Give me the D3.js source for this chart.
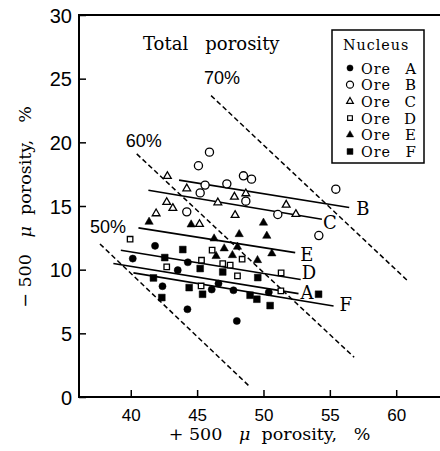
<!DOCTYPE html>
<html>
<head>
<meta charset="utf-8">
<script src="https://cdn.jsdelivr.net/npm/d3@7"></script>
<style>
  body { margin: 0; background: #fff; }
  svg { display: block; }
  .serif { font-family: 'DejaVu Serif', serif; }
  .num { font-family: 'Liberation Sans', Arial, sans-serif; }
</style>
</head>
<body>
<script>
// Data (x = +500 micron porosity %, y = -500 micron porosity %)
const oreA = [[40.15,10.87],[41.83,11.87],[42.39,8.7],[43.54,9.96],[44.3,10.58],[44.27,6.89],
              [46.1,8.44],[46.61,8.91],[47.74,8.38],[47.99,5.97],[50.4,8.23]];
const oreB = [[45.1,18.16],[45.93,19.23],[45.6,16.64],[45.23,16.03],[44.22,14.54],[47.24,16.74],
              [48.49,17.37],[49.1,17.11],[48.67,15.38],[51.08,14.33],[55.45,16.32],[54.17,12.68]];
const oreC = [[42.76,17.34],[44.22,16.37],[42.71,15.3],[43.17,14.83],[41.91,14.41],[45.18,13.57],
              [46.56,15.27],[47.81,15.72],[48.67,15.98],[47.86,14.28],[51.71,15.09],[52.44,14.36]];
const oreD = [[39.95,12.39],[42.71,10.22],[45.33,10.74],[46.13,11.53],[46.93,10.48],[47.49,10.35],
              [48.39,10.82],[48.04,9.51],[51.33,9.75],[45.3,8.72],[51.31,8.33]];
const oreE = [[41.38,13.75],[44.55,13.54],[46.28,12.44],[47.04,11.66],[48.17,12.78],[48.04,11.79],
              [47.66,11.13],[46.43,11.06],[50,13.68],[50.25,12.65],[50.63,11.27],[49.55,10.74]];
const oreF = [[43.92,11.58],[42.56,10.95],[41.71,9.35],[42.34,7.81],[45.23,10.09],[44.4,8.59],
              [45.41,8.07],[46.93,9.82],[48.99,7.99],[49.5,7.68],[49.57,9.38],[50.5,7.18],[54.15,8.07]];

const oreNames = ['A', 'B', 'C', 'D', 'E', 'F'];

// fitted lines per ore: [x1, y1, x2, y2]
const fitLines = {
  B: [43.64, 17.03, 56.46, 14.88],
  C: [41.33, 16.24, 54.4, 13.96],
  E: [40.58, 13.28, 52.39, 11.34],
  D: [39.25, 11.53, 52.8, 9.23],
  A: [38.69, 10.48, 52.64, 8.12],
  F: [40.2, 9.75, 55.28, 7.15]
};

// total porosity iso-lines
const isoLabels = ['50%', '60%', '70%'];
const isoLines = [
  [[37.68, 12.02], [48.99, 0.79]],
  [[40.45, 19.09], [56.83, 3.12]],
  [[46.05, 23.67], [60.8, 9.19]]
];

const xTicks = [40, 45, 50, 55, 60];
const yTicks = [0, 5, 10, 15, 20, 25, 30];

// layout
const width = 440, height = 451;
const plotLeft = 79, plotRight = 440, plotTop = 15, plotBottom = 397;

const svg = d3.select('body').append('svg')
    .attr('width', width)
    .attr('height', height);

const x = d3.scaleLinear().domain([36.1, 63.3]).range([plotLeft, plotRight]);
const y = d3.scaleLinear().domain([0, 30]).range([plotBottom, plotTop]);

// marker styles per ore
const markers = {
  A: {type: d3.symbolCircle, size: 40, fill: true},
  B: {type: d3.symbolCircle, size: 52, fill: false},
  C: {type: d3.symbolTriangle, size: 26, fill: false},
  D: {type: d3.symbolSquare, size: 30, fill: false},
  E: {type: d3.symbolTriangle, size: 30, fill: true},
  F: {type: d3.symbolSquare, size: 46, fill: true}
};
const oreData = {A: oreA, B: oreB, C: oreC, D: oreD, E: oreE, F: oreF};

// axes
const xAxis = d3.axisBottom(x)
    .tickValues(xTicks)
    .tickSizeInner(-7)
    .tickSizeOuter(0)
    .tickPadding(12);
const yAxis = d3.axisLeft(y)
    .tickValues(yTicks)
    .tickSizeInner(-7)
    .tickSizeOuter(0)
    .tickPadding(7);

const gx = svg.append('g')
    .attr('transform', 'translate(0,' + plotBottom + ')')
    .call(xAxis);
const gy = svg.append('g')
    .attr('transform', 'translate(' + plotLeft + ',0)')
    .call(yAxis);

[gx, gy].forEach(function(g) {
  g.select('.domain').remove();
  g.selectAll('line').attr('stroke', '#000').attr('stroke-width', 1.5);
  g.selectAll('text')
      .attr('class', 'num')
      .attr('fill', '#000');
});
gx.selectAll('text').style('font-size', '17px');
gy.selectAll('text').style('font-size', '20px').attr('dy', '0.36em');

// frame: left, bottom, top
svg.append('path')
    .attr('d', `M ${plotRight} ${plotTop} L ${plotLeft} ${plotTop} L ${plotLeft} ${plotBottom} L ${plotRight} ${plotBottom}`)
    .attr('fill', 'none')
    .attr('stroke', '#000')
    .attr('stroke-width', 2);

// iso lines
const isoOffsets = [[-10, -11], [-11, -7], [-7, -12]];
isoLines.forEach(function(seg, i) {
  svg.append('line')
      .attr('x1', x(seg[0][0])).attr('y1', y(seg[0][1]))
      .attr('x2', x(seg[1][0])).attr('y2', y(seg[1][1]))
      .attr('stroke', '#000')
      .attr('stroke-width', 1.5)
      .attr('stroke-dasharray', '5,3');
  svg.append('text')
      .attr('class', 'num')
      .attr('x', x(seg[0][0]) + isoOffsets[i][0])
      .attr('y', y(seg[0][1]) + isoOffsets[i][1])
      .style('font-size', '18px')
      .text(isoLabels[i]);
});

// fit lines and letters
const labelOffsets = {B: [7, 7], C: [1, 10], E: [5, 8], D: [1, 0], A: [2, 5], F: [6, 5]};
Object.keys(fitLines).forEach(function(k) {
  const l = fitLines[k];
  svg.append('line')
      .attr('x1', x(l[0])).attr('y1', y(l[1]))
      .attr('x2', x(l[2])).attr('y2', y(l[3]))
      .attr('stroke', '#000')
      .attr('stroke-width', 1.6);
  svg.append('text')
      .attr('class', 'serif')
      .attr('x', x(l[2]) + labelOffsets[k][0])
      .attr('y', y(l[3]) + labelOffsets[k][1])
      .style('font-size', '18px')
      .text(k);
});

// points
oreNames.forEach(function(k) {
  const m = markers[k];
  svg.append('g').selectAll('path')
      .data(oreData[k])
      .join('path')
      .attr('transform', d => 'translate(' + x(d[0]) + ',' + y(d[1]) + ')')
      .attr('d', d3.symbol().type(m.type).size(m.size))
      .attr('fill', m.fill ? '#000' : '#fff')
      .attr('stroke', '#000')
      .attr('stroke-width', m.fill ? 0.5 : 1.3);
});

// titles
svg.append('text')
    .attr('class', 'serif')
    .attr('x', 143).attr('y', 50)
    .style('font-size', '18px')
    .style('white-space', 'pre')
    .text('Total   porosity');

function axisTitle(sel, sign) {
  sel.append('tspan').text(sign + ' 500   ');
  sel.append('tspan').style('font-style', 'italic').text('\u03bc');
  sel.append('tspan').text('  porosity,   %');
}

svg.append('text')
    .attr('class', 'serif')
    .attr('x', (plotLeft + plotRight) / 2 + 10).attr('y', 440)
    .attr('text-anchor', 'middle')
    .style('font-size', '17.5px')
    .style('white-space', 'pre')
    .call(axisTitle, '+');

svg.append('text')
    .attr('class', 'serif')
    .attr('transform', 'translate(31,207) rotate(-90)')
    .attr('text-anchor', 'middle')
    .style('font-size', '17.5px')
    .style('white-space', 'pre')
    .call(axisTitle, '\u2212');

// legend
const legend = svg.append('g');
legend.append('rect')
    .attr('x', 332).attr('y', 30)
    .attr('width', 92).attr('height', 133)
    .attr('fill', '#fff')
    .attr('stroke', '#000')
    .attr('stroke-width', 1.5);
legend.append('text')
    .attr('class', 'serif')
    .attr('x', 343).attr('y', 50)
    .style('font-size', '14.3px')
    .style('letter-spacing', '1px')
    .text('Nucleus');
oreNames.forEach(function(k, i) {
  const cy = 68 + i * 16.7;
  const m = markers[k];
  legend.append('path')
      .attr('transform', 'translate(350,' + cy + ')')
      .attr('d', d3.symbol().type(m.type).size(m.size * 0.75))
      .attr('fill', m.fill ? '#000' : '#fff')
      .attr('stroke', '#000')
      .attr('stroke-width', m.fill ? 0.5 : 1.2);
  legend.append('text')
      .attr('class', 'serif')
      .attr('x', 361).attr('y', cy + 5.5)
      .style('font-size', '14.3px')
      .style('letter-spacing', '1px')
      .text('Ore');
  legend.append('text')
      .attr('class', 'serif')
      .attr('x', 416).attr('y', cy + 5.5)
      .attr('text-anchor', 'end')
      .style('font-size', '15px')
      .text(k);
});
</script>
</body>
</html>
